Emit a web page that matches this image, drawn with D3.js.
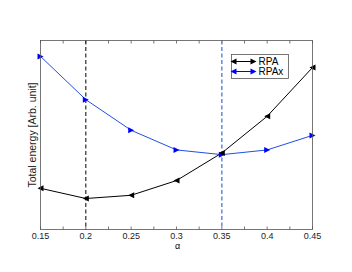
<!DOCTYPE html>
<html>
<head>
<meta charset="utf-8">
<script src="https://cdn.jsdelivr.net/npm/d3@7"></script>
<style>
  body { margin: 0; background: #fff; }
  text { font-family: "Liberation Sans", Arial, sans-serif; }
</style>
</head>
<body>
<div id="chart"></div>
<script>
const alphas = [0.15, 0.2, 0.25, 0.3, 0.35, 0.4, 0.45];
const rpa = [0.218, 0.164, 0.181, 0.259, 0.405, 0.599, 0.857];
const rpax = [0.916, 0.687, 0.525, 0.421, 0.396, 0.421, 0.498];
const tickValues = [0.15, 0.175, 0.2, 0.225, 0.25, 0.275, 0.3, 0.325, 0.35, 0.375, 0.4, 0.425, 0.45];
const tickLabels = [0.15, 0.2, 0.25, 0.3, 0.35, 0.4, 0.45];
const markers = [0.2, 0.35];

const width = 352, height = 272;
const margin = { top: 40.5, right: 39.5, bottom: 42.5, left: 40.5 };
const innerW = width - margin.left - margin.right;
const innerH = height - margin.top - margin.bottom;

const svg = d3.select("#chart").append("svg")
  .attr("width", width).attr("height", height);
const g = svg.append("g").attr("transform", `translate(${margin.left},${margin.top})`);

const x = d3.scaleLinear().domain([0.15, 0.45]).range([0, innerW]);
const y = d3.scaleLinear().domain([0, 1]).range([innerH, 0]);

const axisColor = "#555";

// ticks bottom and top
g.selectAll(".tb").data(tickValues).join("line")
  .attr("x1", d => x(d)).attr("x2", d => x(d))
  .attr("y1", innerH).attr("y2", innerH - 3)
  .attr("stroke", axisColor).attr("stroke-width", 0.8);
g.selectAll(".tt").data(tickValues).join("line")
  .attr("x1", d => x(d)).attr("x2", d => x(d))
  .attr("y1", 0).attr("y2", 3)
  .attr("stroke", axisColor).attr("stroke-width", 0.8);

g.selectAll(".tl").data(tickLabels).join("text")
  .attr("x", d => x(d)).attr("y", innerH + 9.5)
  .attr("text-anchor", "middle")
  .style("font-size", "9px").style("fill", "#222")
  .text(d => d);

// vertical dashed markers
g.append("line")
  .attr("x1", x(markers[0])).attr("x2", x(markers[0]))
  .attr("y1", 0).attr("y2", innerH)
  .attr("stroke", "#000").attr("stroke-width", 1)
  .attr("stroke-dasharray", "4,2.5");
g.append("line")
  .attr("x1", x(markers[1])).attr("x2", x(markers[1]))
  .attr("y1", 0).attr("y2", innerH)
  .attr("stroke", "#6f8fe0").attr("stroke-width", 1.6)
  .attr("stroke-dasharray", "4,2.5");

const line = d3.line().x((d, i) => x(alphas[i])).y(d => y(d));

g.append("path").datum(rpax).attr("d", line)
  .attr("fill", "none").attr("stroke", "#1f4fe6").attr("stroke-width", 1);
g.append("path").datum(rpa).attr("d", line)
  .attr("fill", "none").attr("stroke", "#000").attr("stroke-width", 1);

const triLeft = "M-3,0L3,-3L3,3Z";
const triRight = "M3,0L-3,-3L-3,3Z";

g.selectAll(".mx").data(rpax).join("path")
  .attr("transform", (d, i) => `translate(${x(alphas[i])},${y(d)})`)
  .attr("d", triRight).attr("fill", "#0000ff");
g.selectAll(".mr").data(rpa).join("path")
  .attr("transform", (d, i) => `translate(${x(alphas[i])},${y(d)})`)
  .attr("d", triLeft).attr("fill", "#000");

// frame
g.append("rect").attr("width", innerW).attr("height", innerH)
  .attr("fill", "none").attr("stroke", axisColor).attr("stroke-width", 0.8);

// legend
const lg = svg.append("g").attr("transform", "translate(231.5,54.5)");
lg.append("rect").attr("width", 57).attr("height", 24)
  .attr("fill", "#fff").attr("stroke", axisColor).attr("stroke-width", 0.8);
const legendItems = [
  { name: "RPA", color: "#000" },
  { name: "RPAx", color: "#0000ff" }
];
legendItems.forEach((d, i) => {
  const yy = 7 + i * 10;
  lg.append("line").attr("x1", 2).attr("x2", 22).attr("y1", yy).attr("y2", yy)
    .attr("stroke", d.color).attr("stroke-width", 1);
  lg.append("path").attr("d", triLeft).attr("transform", `translate(2,${yy})`)
    .attr("fill", d.color);
  lg.append("path").attr("d", triRight).attr("transform", `translate(22,${yy})`)
    .attr("fill", d.color);
  lg.append("text").attr("x", 27).attr("y", yy + 3.5)
    .style("font-size", "10px").style("fill", "#000").text(d.name);
});

// axis labels
svg.append("text")
  .attr("x", margin.left + innerW / 2 + 1).attr("y", 249)
  .attr("text-anchor", "middle").style("font-size", "9px").text("α");
svg.append("text")
  .attr("transform", `translate(36,${margin.top + innerH / 2}) rotate(-90)`)
  .attr("text-anchor", "middle").style("font-size", "10.5px").style("fill", "#222")
  .text("Total energy [Arb. unit]");
</script>
</body>
</html>
